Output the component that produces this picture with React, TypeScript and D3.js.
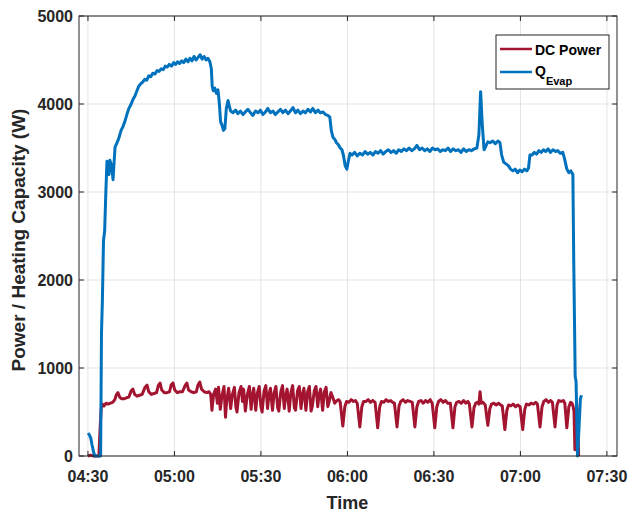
import React from 'react';
import * as d3 from 'd3';

// tick labels
const xTickLabels = ['04:30', '05:00', '05:30', '06:00', '06:30', '07:00', '07:30'];
const yTicks = [0, 1000, 2000, 3000, 4000, 5000];
const seriesNames = ['DC Power', 'Q', 'Evap'];

// [minutes after 04:30, W]
const dcPower: [number, number][] = [
  [0, 0], [1, 10], [2, 0], [3.4, 0], [3.8, 0], [4.2, 300], [4.6, 540], [5.0, 590], [5.6, 570], [6.3, 600],
  [7.0, 590], [7.8, 600], [8.6, 610], [9.3, 640], [9.9, 700], [10.4, 720], [11.0, 670], [11.7, 650], [12.5, 650],
  [13.3, 660], [14.2, 670], [15.0, 740], [15.6, 760], [16.2, 700], [17.0, 680], [17.9, 690], [18.8, 700],
  [19.8, 780], [20.5, 805], [21.1, 730], [22.0, 700], [22.9, 710], [23.8, 720], [24.4, 800], [25.0, 830],
  [25.6, 750], [26.5, 720], [27.4, 720], [28.3, 730], [28.9, 810], [29.5, 830], [30.1, 750], [31.0, 720],
  [31.9, 730], [32.8, 730], [33.7, 800], [34.3, 830], [34.9, 750], [35.8, 730], [36.7, 720], [37.6, 730],
  [38.2, 810], [38.8, 840], [39.4, 760], [40.3, 730], [41.2, 720], [42.0, 730], [42.6, 700],
  [43.0, 520], [43.6, 700], [44.3, 760], [44.9, 600], [45.3, 780], [45.9, 530],
  [46.5, 690], [47.2, 790], [47.7, 440], [48.1, 620], [48.8, 770],
  [49.5, 540], [50.1, 700], [50.8, 780], [51.3, 560], [51.7, 500],
  [52.4, 720], [53.1, 790], [53.6, 620], [54.0, 760], [54.6, 510],
  [55.3, 700], [56.0, 790], [56.6, 530], [57.0, 680], [57.5, 770],
  [58.2, 520], [58.8, 720], [59.4, 790], [60.0, 560], [60.4, 500],
  [61.1, 740], [61.7, 800], [62.3, 540], [62.8, 700], [63.3, 770],
  [64.0, 520], [64.6, 720], [65.2, 790], [65.8, 550], [66.2, 510],
  [66.9, 730], [67.5, 800], [68.1, 540], [68.6, 690], [69.1, 760],
  [69.8, 510], [70.4, 720], [71.0, 800], [71.6, 550], [72.0, 520],
  [72.7, 740], [73.3, 790], [73.9, 540], [74.4, 700], [74.9, 770],
  [75.6, 520], [76.2, 730], [76.8, 790], [77.4, 510], [77.8, 560],
  [78.5, 740], [79.1, 790], [79.7, 560], [80.2, 700], [80.7, 760],
  [81.4, 520], [82.0, 730], [82.6, 780], [83.2, 560], [83.6, 610],
  [84.3, 720], [85.0, 660], [85.6, 600],
  [86.3, 630], [87.0, 640], [87.5, 610], [88.4, 340], [89.1, 560], [89.7, 620], [90.5, 610], [91.3, 640],
  [92.1, 620], [92.8, 630], [93.4, 600], [94.3, 330], [95.0, 560], [95.6, 620], [96.4, 620], [97.2, 640],
  [98.0, 610], [98.8, 630], [99.6, 610], [100.5, 320], [101.2, 560], [101.8, 620], [102.6, 610],
  [103.4, 640], [104.2, 620], [105.0, 630], [105.7, 610], [106.3, 600], [107.2, 330], [107.9, 570],
  [108.5, 620], [109.3, 640], [110.1, 610], [110.9, 630], [111.7, 620], [112.5, 610], [113.4, 330],
  [114.1, 560], [114.7, 620], [115.5, 630], [116.3, 600], [117.1, 630], [117.9, 610], [118.7, 640],
  [119.4, 600], [120.3, 320], [121.0, 560], [121.6, 620], [122.4, 640], [123.2, 610], [124.0, 630],
  [124.8, 600], [125.7, 600], [126.6, 320], [127.3, 560], [127.9, 610], [128.7, 620], [129.5, 600],
  [130.3, 630], [131.1, 600], [131.8, 620], [132.3, 590], [133.2, 330], [133.9, 550], [134.5, 600],
  [135.1, 610], [135.6, 590], [136.0, 730], [136.4, 600], [137.0, 610], [137.8, 580], [138.7, 350],
  [139.4, 540], [140.0, 590], [140.8, 600], [141.6, 580], [142.4, 600], [143.1, 580], [143.7, 570],
  [144.6, 300], [145.3, 520], [145.9, 580], [146.7, 570], [147.5, 590], [148.3, 560], [149.1, 580],
  [149.9, 560], [150.8, 300], [151.5, 530], [152.1, 590], [152.9, 580], [153.7, 600], [154.5, 590],
  [155.3, 610], [155.9, 590], [156.8, 330], [157.5, 560], [158.1, 620], [158.9, 640], [159.7, 610],
  [160.5, 630], [161.1, 610], [162.0, 330], [162.7, 580], [163.3, 630], [164.1, 620], [164.9, 630],
  [165.4, 600], [166.1, 320], [166.8, 560], [167.4, 610], [167.9, 600], [168.3, 560], [168.6, 500],
  [168.9, 70], [169.3, 300], [169.6, 580], [169.9, 400], [170.2, 0],
];

const qEvap: [number, number][] = [
  [0, 260], [0.5, 240], [1, 200], [1.4, 130], [2, 40], [2.4, 0], [4.4, 0], [4.7, 1400], [5.0, 1750],
  [5.4, 2450], [5.8, 2560], [6.2, 2990], [6.6, 3350], [7.0, 3280], [7.3, 3200], [7.6, 3360], [8.2, 3300],
  [8.7, 3140], [9.4, 3510], [10.1, 3560], [10.8, 3620], [11.5, 3700], [12.1, 3740], [12.8, 3800],
  [13.5, 3880], [14.2, 3950], [15.0, 4000], [15.6, 4050], [16.3, 4090], [17.0, 4150], [17.6, 4200],
  [18.3, 4230], [19.0, 4250], [19.7, 4280], [20.4, 4270], [21.1, 4320], [21.8, 4310], [22.5, 4350],
  [23.2, 4340], [24.0, 4380], [24.7, 4370], [25.4, 4400], [26.1, 4390], [26.8, 4430], [27.5, 4420],
  [28.2, 4450], [29.0, 4430], [29.7, 4470], [30.4, 4450], [31.1, 4480], [31.8, 4460], [32.5, 4490],
  [33.2, 4470], [34.0, 4510], [34.7, 4480], [35.4, 4520], [36.1, 4490], [36.8, 4540], [37.5, 4500],
  [38.2, 4530], [38.9, 4560], [39.6, 4510], [40.3, 4540], [41.0, 4500], [41.6, 4520], [42.3, 4480],
  [42.8, 4400], [43.1, 4200], [43.5, 4150], [44.0, 4180], [44.6, 4120], [45.1, 4160], [45.6, 4000],
  [46.0, 3800], [46.5, 3760], [47.0, 3700], [47.5, 3720], [48.0, 3950], [48.6, 4040], [49.0, 3980],
  [49.5, 3920], [50.3, 3900], [51.2, 3930], [52.0, 3890], [52.9, 3920], [53.8, 3880], [54.6, 3910],
  [55.5, 3940], [56.4, 3900], [57.2, 3870], [58.1, 3920], [59.0, 3900], [59.8, 3930], [60.7, 3880],
  [61.6, 3910], [62.4, 3950], [63.3, 3900], [64.2, 3920], [65.0, 3880], [65.9, 3910], [66.8, 3940],
  [67.6, 3900], [68.5, 3930], [69.4, 3890], [70.2, 3920], [71.1, 3960], [72.0, 3900], [72.8, 3930],
  [73.7, 3890], [74.6, 3920], [75.4, 3900], [76.3, 3940], [77.2, 3910], [78.0, 3950], [78.9, 3900],
  [79.8, 3930], [80.6, 3900], [81.5, 3910], [82.4, 3880], [83.2, 3870], [83.9, 3850], [84.4, 3700],
  [85.0, 3620], [85.6, 3600], [86.2, 3560], [86.8, 3540], [87.5, 3500], [88.1, 3480], [88.6, 3420],
  [89.2, 3300], [89.8, 3260], [90.3, 3350], [90.9, 3440], [91.6, 3420], [92.5, 3450], [93.4, 3410],
  [94.3, 3440], [95.2, 3420], [96.1, 3460], [97.0, 3430], [97.9, 3450], [98.8, 3420], [99.7, 3460],
  [100.6, 3440], [101.5, 3470], [102.4, 3430], [103.3, 3460], [104.2, 3480], [105.1, 3450], [106.0, 3470],
  [106.9, 3440], [107.8, 3480], [108.7, 3460], [109.6, 3490], [110.5, 3470], [111.4, 3500], [112.3, 3470],
  [113.2, 3490], [114.1, 3530], [115.0, 3480], [115.9, 3500], [116.8, 3470], [117.7, 3490], [118.6, 3460],
  [119.5, 3500], [120.4, 3480], [121.3, 3490], [122.2, 3460], [123.1, 3480], [124.0, 3470], [124.9, 3500],
  [125.8, 3460], [126.7, 3490], [127.6, 3470], [128.5, 3480], [129.4, 3450], [130.3, 3490], [131.2, 3460],
  [132.1, 3480], [133.0, 3470], [134.0, 3490], [134.9, 3500], [135.6, 3650], [136.2, 4140], [136.8, 3750],
  [137.4, 3480], [138.0, 3520], [138.7, 3570], [139.5, 3560], [140.4, 3580], [141.3, 3550], [142.2, 3580],
  [142.9, 3560], [143.5, 3420], [144.2, 3340], [145.0, 3320], [145.8, 3300], [146.6, 3260], [147.4, 3240],
  [148.2, 3260], [149.0, 3220], [149.8, 3250], [150.6, 3230], [151.4, 3260], [152.2, 3240], [152.8, 3270],
  [153.3, 3420], [154.0, 3420], [154.8, 3450], [155.6, 3430], [156.4, 3470], [157.2, 3450], [158.0, 3480],
  [158.8, 3460], [159.6, 3490], [160.4, 3450], [161.3, 3480], [162.2, 3460], [163.0, 3470], [163.8, 3440],
  [164.7, 3450], [165.3, 3380], [166.1, 3260], [166.8, 3220], [167.5, 3240], [168.2, 3200], [168.5, 2200],
  [169.0, 900], [169.3, 850], [169.8, 0], [170.3, 300], [170.8, 650], [171.2, 690],
];

const t0 = new Date(2020, 0, 1, 4, 30);
const toDate = (m: number) => new Date(t0.getTime() + m * 60000);
const parseTick = d3.timeParse('%Y-%m-%d %H:%M');

const W = 629;
const H = 513;
const margin = { top: 16, right: 12, bottom: 57, left: 79 };
const AX = '#262626';
const FONT = '"Liberation Sans", Arial, sans-serif';

export default function App() {
  const innerW = W - margin.left - margin.right;
  const innerH = H - margin.top - margin.bottom;

  const x = d3.scaleTime().domain([toDate(-3.1), toDate(183.5)]).range([0, innerW]);
  const y = d3.scaleLinear().domain([0, 5000]).range([innerH, 0]);

  const line = d3
    .line<[number, number]>()
    .x((d) => x(toDate(d[0])))
    .y((d) => y(d[1]));

  const xTicks = xTickLabels.map((l) => ({ label: l, pos: x(parseTick('2020-01-01 ' + l) as Date) }));

  return (
    <div style={{ position: 'absolute', left: 0, top: 0 }}>
      <svg width={W} height={H} style={{ display: 'block', background: '#fff' }} fontFamily={FONT}>
        <g transform={`translate(${margin.left},${margin.top})`}>
          {/* grid */}
          {xTicks.map((t) => (
            <line key={'gx' + t.label} x1={t.pos} x2={t.pos} y1={0} y2={innerH} stroke="#e3e3e3" strokeWidth={1} />
          ))}
          {yTicks.map((v) => (
            <line key={'gy' + v} x1={0} x2={innerW} y1={y(v)} y2={y(v)} stroke="#e3e3e3" strokeWidth={1} />
          ))}

          {/* series */}
          <path d={line(dcPower) || ''} fill="none" stroke="#A2142F" strokeWidth={3} strokeLinejoin="round" />
          <path d={line(qEvap) || ''} fill="none" stroke="#0072BD" strokeWidth={3} strokeLinejoin="round" />

          {/* box */}
          <rect x={0} y={0} width={innerW} height={innerH} fill="none" stroke={AX} strokeWidth={1} />

          {/* ticks */}
          {xTicks.map((t) => (
            <g key={'tx' + t.label}>
              <line x1={t.pos} x2={t.pos} y1={innerH} y2={innerH - 5} stroke={AX} />
              <line x1={t.pos} x2={t.pos} y1={0} y2={5} stroke={AX} />
              <text x={t.pos} y={innerH + 26} textAnchor="middle" fontSize={16} fontWeight="bold" fill={AX}>
                {t.label}
              </text>
            </g>
          ))}
          {yTicks.map((v) => (
            <g key={'ty' + v}>
              <line x1={0} x2={5} y1={y(v)} y2={y(v)} stroke={AX} />
              <line x1={innerW} x2={innerW - 5} y1={y(v)} y2={y(v)} stroke={AX} />
              <text x={-6} y={y(v)} dy="0.36em" textAnchor="end" fontSize={16} fontWeight="bold" fill={AX}>
                {v}
              </text>
            </g>
          ))}

          {/* axis labels */}
          <text x={x(toDate(90))} y={innerH + 53} textAnchor="middle" fontSize={18} fontWeight="bold" fill={AX}>
            Time
          </text>
          <text
            transform={`translate(${18 - margin.left},${innerH / 2 + 4}) rotate(-90)`}
            dy="0.35em"
            textAnchor="middle"
            fontSize={19}
            fontWeight="bold"
            fill={AX}
          >
            Power / Heating Capacity (W)
          </text>

          {/* legend */}
          <g transform={`translate(${496 - margin.left},${35 - margin.top})`}>
            <rect x={0} y={0} width={113} height={54} fill="#fff" stroke={AX} strokeWidth={1} />
            <line x1={4} x2={36} y1={14} y2={14} stroke="#A2142F" strokeWidth={2.5} />
            <text x={39} y={20} fontSize={14} fontWeight="bold" fill="#000">
              {seriesNames[0]}
            </text>
            <line x1={4} x2={36} y1={37} y2={37} stroke="#0072BD" strokeWidth={2.5} />
            <text x={39} y={41} fontSize={14} fontWeight="bold" fill="#000">
              {seriesNames[1]}
              <tspan dy={9} fontSize={11}>
                {seriesNames[2]}
              </tspan>
            </text>
          </g>
        </g>
      </svg>
    </div>
  );
}
